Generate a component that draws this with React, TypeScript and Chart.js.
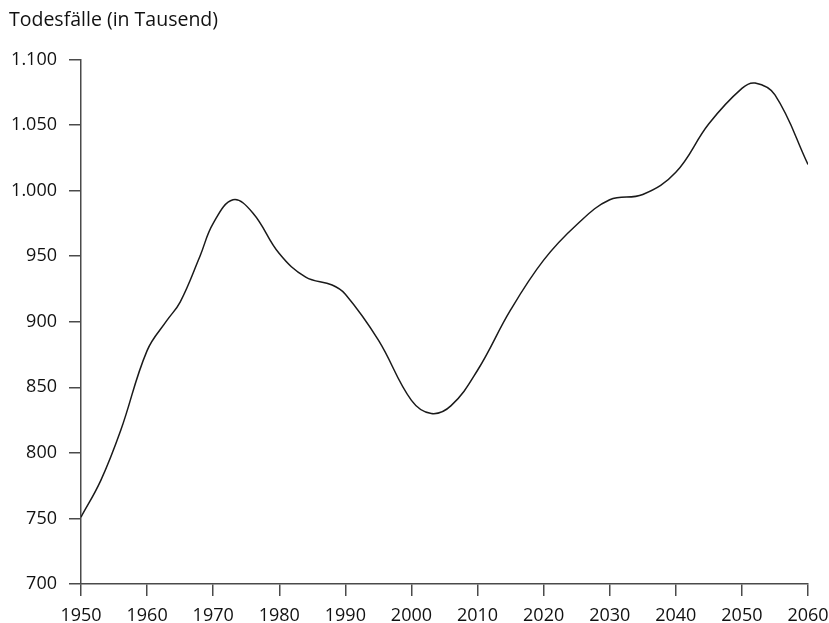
import React, { useEffect, useRef } from "react";
import { Chart, registerables } from "chart.js";

Chart.register(...registerables);

const TITLE = "Todesfälle (in Tausend)";
const years = [1950, 1953, 1956, 1960, 1963, 1965, 1968, 1970, 1973, 1976, 1980, 1984, 1988, 1990, 1995, 2000, 2003, 2006, 2010, 2015, 2020, 2025, 2030, 2035, 2040, 2045, 2050, 2052, 2055, 2060];
const deaths = [751, 779, 817, 878, 901, 915, 950, 975, 993, 983, 952, 934, 928, 921, 886, 840, 830, 836, 863, 909, 947, 974, 993, 997, 1014, 1051, 1078, 1082, 1073, 1020];
const yMin = 700;
const yMax = 1100;
const yStep = 50;
const xMin = 1950;
const xMax = 2060;
const xStep = 10;

const FONT = "'Open Sans', 'Noto Sans', sans-serif";
const AXIS_COLOR = "#4a4a4a";

function fmtDe(v: number): string {
  const s = Math.round(v).toString();
  return s.replace(/\B(?=(\d{3})+(?!\d))/g, ".");
}

const titlePlugin = {
  id: "topTitle",
  afterDraw(chart: any) {
    const ctx = chart.ctx;
    ctx.save();
    ctx.font = `19.5px ${FONT}`;
    ctx.fillStyle = "#111";
    ctx.textAlign = "left";
    ctx.textBaseline = "middle";
    ctx.fillText(TITLE, 9, 20);
    ctx.restore();
  },
};

export default function App() {
  const ref = useRef<HTMLCanvasElement | null>(null);
  useEffect(() => {
    if (!ref.current) return;
    const chart = new Chart(ref.current, {
      type: "line",
      data: {
        datasets: [
          {
            data: years.map((y, i) => ({ x: y, y: deaths[i] })),
            borderColor: "#1a1a1a",
            borderWidth: 1.5,
            pointRadius: 0,
            tension: 0.4,
            fill: false,
          },
        ],
      },
      options: {
        animation: false,
        responsive: false,
        maintainAspectRatio: false,
        layout: { padding: { top: 59.5, right: 21, left: 0, bottom: 0 } },
        plugins: { legend: { display: false }, tooltip: { enabled: false }, title: { display: false } },
        scales: {
          x: {
            type: "linear",
            min: xMin,
            max: xMax,
            afterFit: (s: any) => {
              s.height = 39;
              s.paddingLeft = 0;
              s.paddingRight = 0;
            },
            border: { display: true, color: AXIS_COLOR, width: 1.5 },
            grid: { drawOnChartArea: false, drawTicks: true, tickLength: 12, color: AXIS_COLOR, lineWidth: 1.5 },
            ticks: {
              stepSize: xStep,
              padding: 9,
              color: "#111",
              font: { family: FONT, size: 18 },
              maxRotation: 0,
              callback: (v: any) => String(v),
            },
          },
          y: {
            type: "linear",
            min: yMin,
            max: yMax,
            afterFit: (s: any) => {
              s.width = 81;
              s.paddingTop = 0;
              s.paddingBottom = 0;
            },
            border: { display: true, color: AXIS_COLOR, width: 1.5 },
            grid: { drawOnChartArea: false, drawTicks: true, tickLength: 12, color: AXIS_COLOR, lineWidth: 1.5 },
            ticks: {
              stepSize: yStep,
              padding: 12,
              color: "#111",
              font: { family: FONT, size: 18 },
              callback: (v: any) => fmtDe(Number(v)),
            },
          },
        },
      },
      plugins: [titlePlugin],
    });
    return () => chart.destroy();
  }, []);
  return (
    <div style={{ position: "absolute", left: 0, top: 0, width: 829, height: 623, background: "#fff" }}>
      <canvas ref={ref} width={829} height={623} style={{ width: 829, height: 623, display: "block" }} />
    </div>
  );
}
